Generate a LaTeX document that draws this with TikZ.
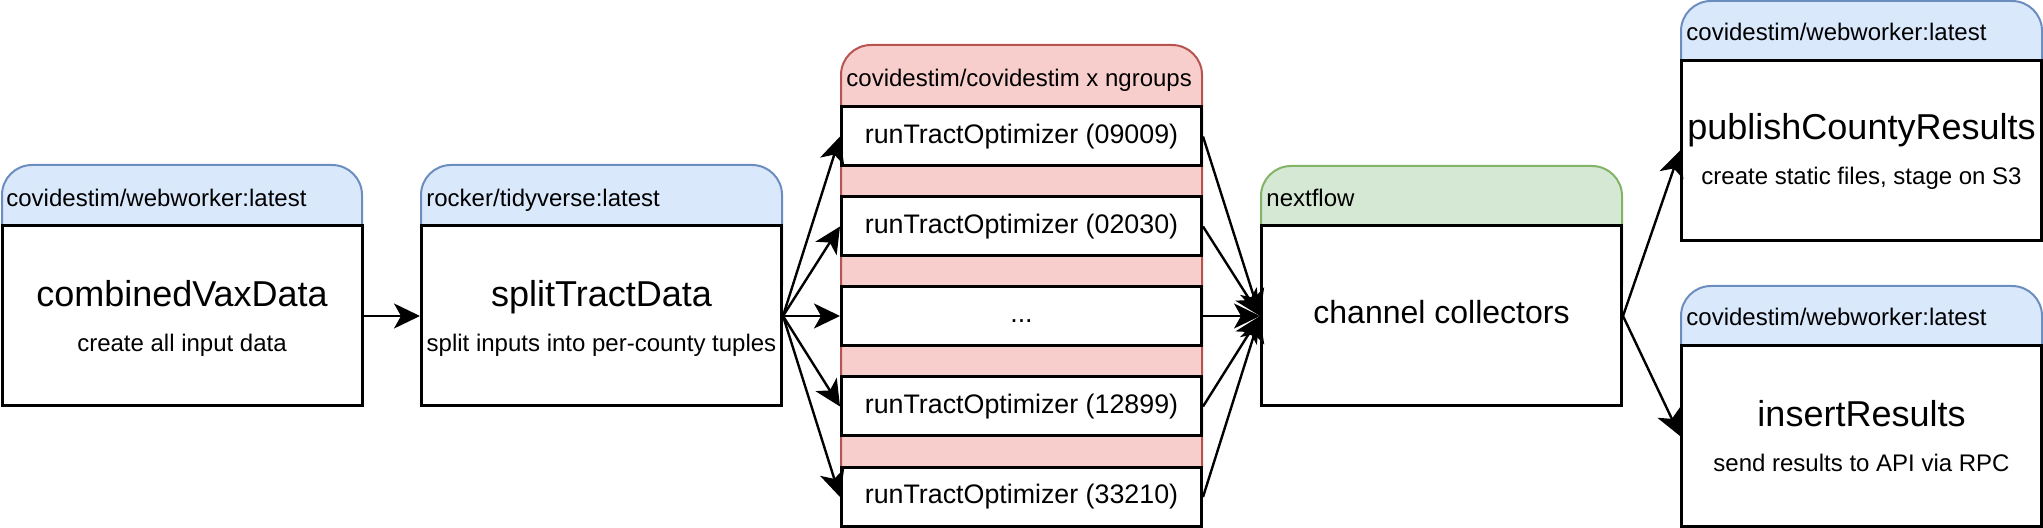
\documentclass[tikz,border=0pt]{standalone}
\usepackage{fontspec}
\setmainfont{Liberation Sans}
\usepackage{xcolor}
\usetikzlibrary{arrows.meta,positioning}
\definecolor{TagBlue}{HTML}{DAE8FC}
\definecolor{TagBlueLine}{HTML}{6C8EBF}
\definecolor{TagRed}{HTML}{F8CECC}
\definecolor{TagRedLine}{HTML}{B85450}
\definecolor{TagGreen}{HTML}{D5E8D4}
\definecolor{TagGreenLine}{HTML}{82B366}

\begin{document}
\begin{tikzpicture}[x=0.5pt,y=-0.5pt,
  proc/.style={draw,fill=white,line width=1.5pt,minimum width=180pt,minimum height=90pt,inner sep=0pt},
  task/.style={draw,fill=white,line width=1.5pt,minimum width=180pt,minimum height=29.5pt,inner sep=0pt,
    font=\fontsize{13.4}{16}\selectfont,text height=10pt,text depth=3.4pt},
  tag/.style={anchor=west,inner sep=0pt,font=\fontsize{12}{14}\selectfont,text height=9pt,text depth=3pt},
  procname/.style={inner sep=0pt,font=\fontsize{18}{21}\selectfont,text height=13.5pt,text depth=4.5pt},
  procnote/.style={inner sep=0pt,font=\fontsize{12}{14}\selectfont,text height=9pt,text depth=3pt},
  bluetag/.style={draw=TagBlueLine,fill=TagBlue,line width=1pt,rounded corners=15pt},
  redtag/.style={draw=TagRedLine,fill=TagRed,line width=1pt,rounded corners=15pt},
  greentag/.style={draw=TagGreenLine,fill=TagGreen,line width=1pt,rounded corners=15pt},
  flow/.style={-{Stealth[length=13pt,width=12.5pt,inset=3.5pt]},line width=1.2pt}]
  \useasboundingbox (0,0) rectangle (2043,528);

  % container headers
  \draw[bluetag] (2,165) rectangle (362,316);
  \draw[bluetag] (421,165) rectangle (782,316);
  \draw[redtag] (841,45) rectangle (1202,497);
  \draw[greentag] (1261,166) rectangle (1622,316);
  \draw[bluetag] (1681,1) rectangle (2042,150);
  \draw[bluetag] (1681,286) rectangle (2042,436);

  \node[tag] (vaxtag) at (6,201) {covidestim/webworker:latest};
  \node[tag] (splittag) at (426,201) {rocker/tidyverse:latest};
  \node[tag] (runtag) at (846,81) {covidestim/covidestim x ngroups};
  \node[tag] (chantag) at (1266,201) {nextflow};
  \node[tag] (pubtag) at (1686,35) {covidestim/webworker:latest};
  \node[tag] (instag) at (1686,320) {covidestim/webworker:latest};

  % processes
  \node[proc] (vax) at (182,316) {};
  \node[procname] (vaxname) at (182,298) {combinedVaxData};
  \node[procnote] (vaxnote) at (182,346) {create all input data};

  \node[proc] (split) at (601.5,316) {};
  \node[procname] (splitname) at (601.5,298) {splitTractData};
  \node[procnote] (splitnote) at (601.5,346) {split inputs into per-county tuples};

  \node[task] (run1) at (1021.5,136.5) {runTractOptimizer (09009)};
  \node[task] (run2) at (1021.5,226.5) {runTractOptimizer (02030)};
  \node[task] (run3) at (1021.5,316) {...};
  \node[task] (run4) at (1021.5,406.5) {runTractOptimizer (12899)};
  \node[task] (run5) at (1021.5,497) {runTractOptimizer (33210)};

  \node[proc,font=\fontsize{16}{19}\selectfont,text height=12pt,text depth=4pt] (chan) at (1441.5,316) {channel collectors};

  \node[proc] (pub) at (1861.5,150.5) {};
  \node[procname] (pubname) at (1861.5,131) {publishCountyResults};
  \node[procnote] (pubnote) at (1861.5,179) {create static files, stage on S3};

  \node[proc] (ins) at (1861.5,436) {};
  \node[procname] (insname) at (1861.5,418) {insertResults};
  \node[procnote] (insnote) at (1861.5,466) {send results to API via RPC};

  % connectors
  \draw[flow] (vax) -- (split);
  \draw[flow] (split.east) -- (run1.west);
  \draw[flow] (split.east) -- (run2.west);
  \draw[flow] (split.east) -- (run3.west);
  \draw[flow] (split.east) -- (run4.west);
  \draw[flow] (split.east) -- (run5.west);
  \draw[flow] (run1.east) -- (chan.west);
  \draw[flow] (run2.east) -- (chan.west);
  \draw[flow] (run3.east) -- (chan.west);
  \draw[flow] (run4.east) -- (chan.west);
  \draw[flow] (run5.east) -- (chan.west);
  \draw[flow] (chan.east) -- (pub.west);
  \draw[flow] (chan.east) -- (ins.west);
\end{tikzpicture}
\end{document}
